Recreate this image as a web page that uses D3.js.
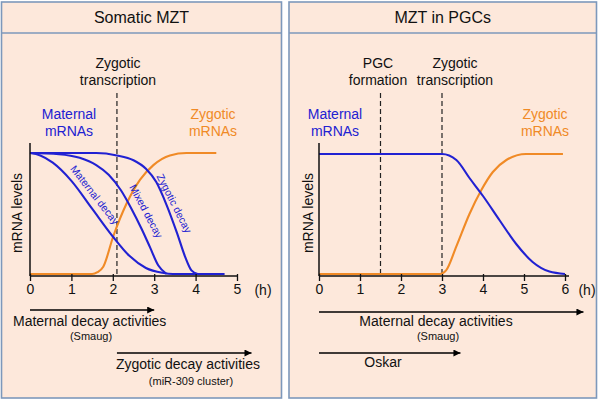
<!DOCTYPE html>
<html>
<head>
<meta charset="utf-8">
<script src="https://cdn.jsdelivr.net/npm/d3@7"></script>
<style>
  html, body { margin: 0; padding: 0; background: #ffffff; }
  svg { display: block; font-family: "Liberation Sans", Arial, Helvetica, sans-serif; }
</style>
</head>
<body>
<svg id="chart" width="600" height="401"></svg>
<script>
// ---------- data ----------
const panelTitles = ["Somatic MZT", "MZT in PGCs"];
const ticksLeft = [0, 1, 2, 3, 4, 5];
const ticksRight = [0, 1, 2, 3, 4, 5, 6];

// Somatic MZT (hours, relative level)
const matDecayT = [0, 0.25, 0.55, 1.0, 1.5, 2.0, 2.4, 2.8, 3.2, 3.45, 4.7];
const matDecayV = [1, 0.98, 0.92, 0.77, 0.54, 0.31, 0.15, 0.05, 0.01, 0, 0];
const mixDecayT = [0, 0.7, 1.2, 1.6, 1.9, 2.2, 2.45, 2.7, 2.9, 3.1, 3.3];
const mixDecayV = [1, 0.99, 0.96, 0.9, 0.82, 0.69, 0.54, 0.37, 0.22, 0.07, 0];
const zygDecayT = [0, 1.6, 2.1, 2.5, 2.8, 3.05, 3.3, 3.55, 3.75, 3.9, 4.05];
const zygDecayV = [1, 1, 0.98, 0.94, 0.87, 0.76, 0.57, 0.34, 0.14, 0.03, 0];
const zygLeftT = [0, 1.5, 1.63, 1.77, 2.01, 2.33, 2.66, 2.98, 3.38, 3.78, 4.5];
const zygLeftV = [0, 0, 0.015, 0.06, 0.31, 0.58, 0.78, 0.90, 0.98, 1, 1];
const zygTranscriptionLeft = [2.1];
const arrowsLeft = [[0, 3], [2.1, 5.35]];

// MZT in PGCs
const matRightT = [0, 3, 3.35, 3.67, 4.0, 4.4, 4.81, 5.21, 5.62, 6];
const matRightV = [1, 1, 0.95, 0.8, 0.65, 0.45, 0.25, 0.1, 0.02, 0];
const zygRightT = [0, 2.95, 3.1, 3.35, 3.67, 3.96, 4.24, 4.57, 5.05, 5.95];
const zygRightV = [0, 0, 0.03, 0.23, 0.5, 0.7, 0.85, 0.95, 1, 1];
const eventsRight = [1.5, 3];
const arrowsRight = [[0, 6.45], [0, 3.45]];

// ---------- style ----------
const BLUE = "#2121d2";
const ORANGE = "#f08a26";
const BG = "#fde8db";
const BORDER = "#7d98bb";

const svg = d3.select("#chart");
const defs = svg.append("defs");
defs.append("marker").attr("id", "arrow").attr("viewBox", "0 0 10 10")
  .attr("refX", 10).attr("refY", 5).attr("markerWidth", 9).attr("markerHeight", 7)
  .attr("markerUnits", "userSpaceOnUse").attr("orient", "auto")
  .append("path").attr("d", "M0,0 L10,5 L0,10 Z").attr("fill", "#000");

// panels
const panels = [{x: 1.5, w: 280}, {x: 289, w: 307.5}];
panels.forEach((p, i) => {
  svg.append("rect").attr("x", p.x).attr("y", 2).attr("width", p.w).attr("height", 396)
    .attr("fill", BG).attr("stroke", BORDER).attr("stroke-width", 1.6);
  svg.append("line").attr("x1", p.x).attr("x2", p.x + p.w).attr("y1", 33).attr("y2", 33)
    .attr("stroke", BORDER).attr("stroke-width", 1.6);
  svg.append("text").attr("x", p.x + p.w / 2).attr("y", 23).attr("text-anchor", "middle")
    .attr("font-size", 16).attr("fill", "#111").text(panelTitles[i]);
});

function text(g, x, y, str, opts = {}) {
  return g.append("text").attr("x", x).attr("y", y)
    .attr("text-anchor", opts.anchor || "middle")
    .attr("font-size", opts.size || 14)
    .attr("fill", opts.color || "#111")
    .text(str);
}

function drawPanel(cfg) {
  const g = svg.append("g");
  const x = d3.scaleLinear().domain([0, cfg.xmax]).range([cfg.x0, cfg.x1]);
  const y = d3.scaleLinear().domain([0, 1]).range([cfg.yBottom, cfg.yTop]);
  const axisY = cfg.yBottom + 2;

  // dashed event lines
  cfg.events.forEach(t => {
    g.append("line").attr("x1", x(t)).attr("x2", x(t)).attr("y1", 93).attr("y2", axisY)
      .attr("stroke", "#222").attr("stroke-width", 1.2).attr("stroke-dasharray", "5,3");
  });

  // curves
  const line = d3.line().x(d => x(d[0])).y(d => y(d[1])).curve(d3.curveMonotoneX);
  cfg.series.forEach(s => {
    const pts = s.t.map((t, i) => [t, s.v[i]]);
    g.append("path").attr("d", line(pts)).attr("fill", "none")
      .attr("stroke", s.color).attr("stroke-width", 2.1).attr("stroke-linejoin", "round");
  });

  // axes
  const ax = d3.axisBottom(x).tickValues(cfg.ticks).tickFormat(d3.format("d"))
    .tickSizeInner(5).tickSizeOuter(0).tickPadding(3);
  const axg = g.append("g").attr("transform", `translate(0,${axisY})`).call(ax);
  axg.select(".domain").attr("stroke", "#111").attr("stroke-width", 1.5)
    .attr("d", `M${x(0)},0H${x(cfg.xmax) + cfg.axisExtra}`);
  axg.selectAll(".tick line").attr("stroke", "#111").attr("stroke-width", 1.3).attr("y1", -2);
  axg.selectAll(".tick text").attr("font-size", 14).attr("fill", "#111")
    .attr("font-family", "Liberation Sans, Arial, sans-serif");
  g.append("line").attr("x1", x(0)).attr("x2", x(0)).attr("y1", 143).attr("y2", axisY)
    .attr("stroke", "#111").attr("stroke-width", 1.5);
  text(g, cfg.hx, 295, "(h)");
  g.append("text").attr("transform", `translate(${cfg.ylx},213) rotate(-90)`)
    .attr("text-anchor", "middle").attr("dominant-baseline", "central")
    .attr("font-size", 14).attr("fill", "#111").text("mRNA levels");

  // arrows
  cfg.arrows.forEach((a, i) => {
    g.append("line").attr("x1", x(a[0])).attr("x2", x(a[1]))
      .attr("y1", cfg.arrowY[i]).attr("y2", cfg.arrowY[i])
      .attr("stroke", "#000").attr("stroke-width", 1.6).attr("marker-end", "url(#arrow)");
  });
  return {g, x, y};
}

// ----- left panel -----
const L = drawPanel({
  xmax: 5, x0: 30, x1: 237, yBottom: 274, yTop: 153, axisExtra: 1,
  ticks: ticksLeft, events: zygTranscriptionLeft, hx: 263, ylx: 17,
  series: [
    {t: zygLeftT, v: zygLeftV, color: ORANGE},
    {t: matDecayT, v: matDecayV, color: BLUE},
    {t: mixDecayT, v: mixDecayV, color: BLUE},
    {t: zygDecayT, v: zygDecayV, color: BLUE}
  ],
  arrows: arrowsLeft, arrowY: [310, 353]
});
text(L.g, 118, 68, "Zygotic");
text(L.g, 118, 85, "transcription");
text(L.g, 69, 119, "Maternal", {color: BLUE});
text(L.g, 69, 136, "mRNAs", {color: BLUE});
text(L.g, 213, 119, "Zygotic", {color: ORANGE});
text(L.g, 213, 136, "mRNAs", {color: ORANGE});
[["Maternal decay", 1.57, 0.655, 52], ["Mixed decay", 2.81, 0.52, 62], ["Zygotic decay", 3.49, 0.585, 63]]
  .forEach(([s, t, v, r]) => {
    L.g.append("text").attr("transform", `translate(${L.x(t)},${L.y(v)}) rotate(${r})`)
      .attr("text-anchor", "middle").attr("dominant-baseline", "central")
      .attr("font-size", 10.5).attr("fill", BLUE).text(s);
  });
text(L.g, 13, 326, "Maternal decay activities", {anchor: "start"});
text(L.g, 91, 340, "(Smaug)", {size: 11});
text(L.g, 116, 369, "Zygotic decay activities", {anchor: "start"});
text(L.g, 191, 385, "(miR-309 cluster)", {size: 11});

// ----- right panel -----
const R = drawPanel({
  xmax: 6, x0: 319, x1: 565, yBottom: 274, yTop: 154, axisExtra: 4,
  ticks: ticksRight, events: eventsRight, hx: 587, ylx: 308,
  series: [
    {t: zygRightT, v: zygRightV, color: ORANGE},
    {t: matRightT, v: matRightV, color: BLUE}
  ],
  arrows: arrowsRight, arrowY: [312, 353]
});
text(R.g, 378, 68, "PGC");
text(R.g, 378, 85, "formation");
text(R.g, 455, 68, "Zygotic");
text(R.g, 455, 85, "transcription");
text(R.g, 335, 119, "Maternal", {color: BLUE});
text(R.g, 335, 136, "mRNAs", {color: BLUE});
text(R.g, 545, 119, "Zygotic", {color: ORANGE});
text(R.g, 545, 136, "mRNAs", {color: ORANGE});
text(R.g, 436, 326, "Maternal decay activities");
text(R.g, 438, 340, "(Smaug)", {size: 11});
text(R.g, 383, 367, "Oskar");
</script>
</body>
</html>
